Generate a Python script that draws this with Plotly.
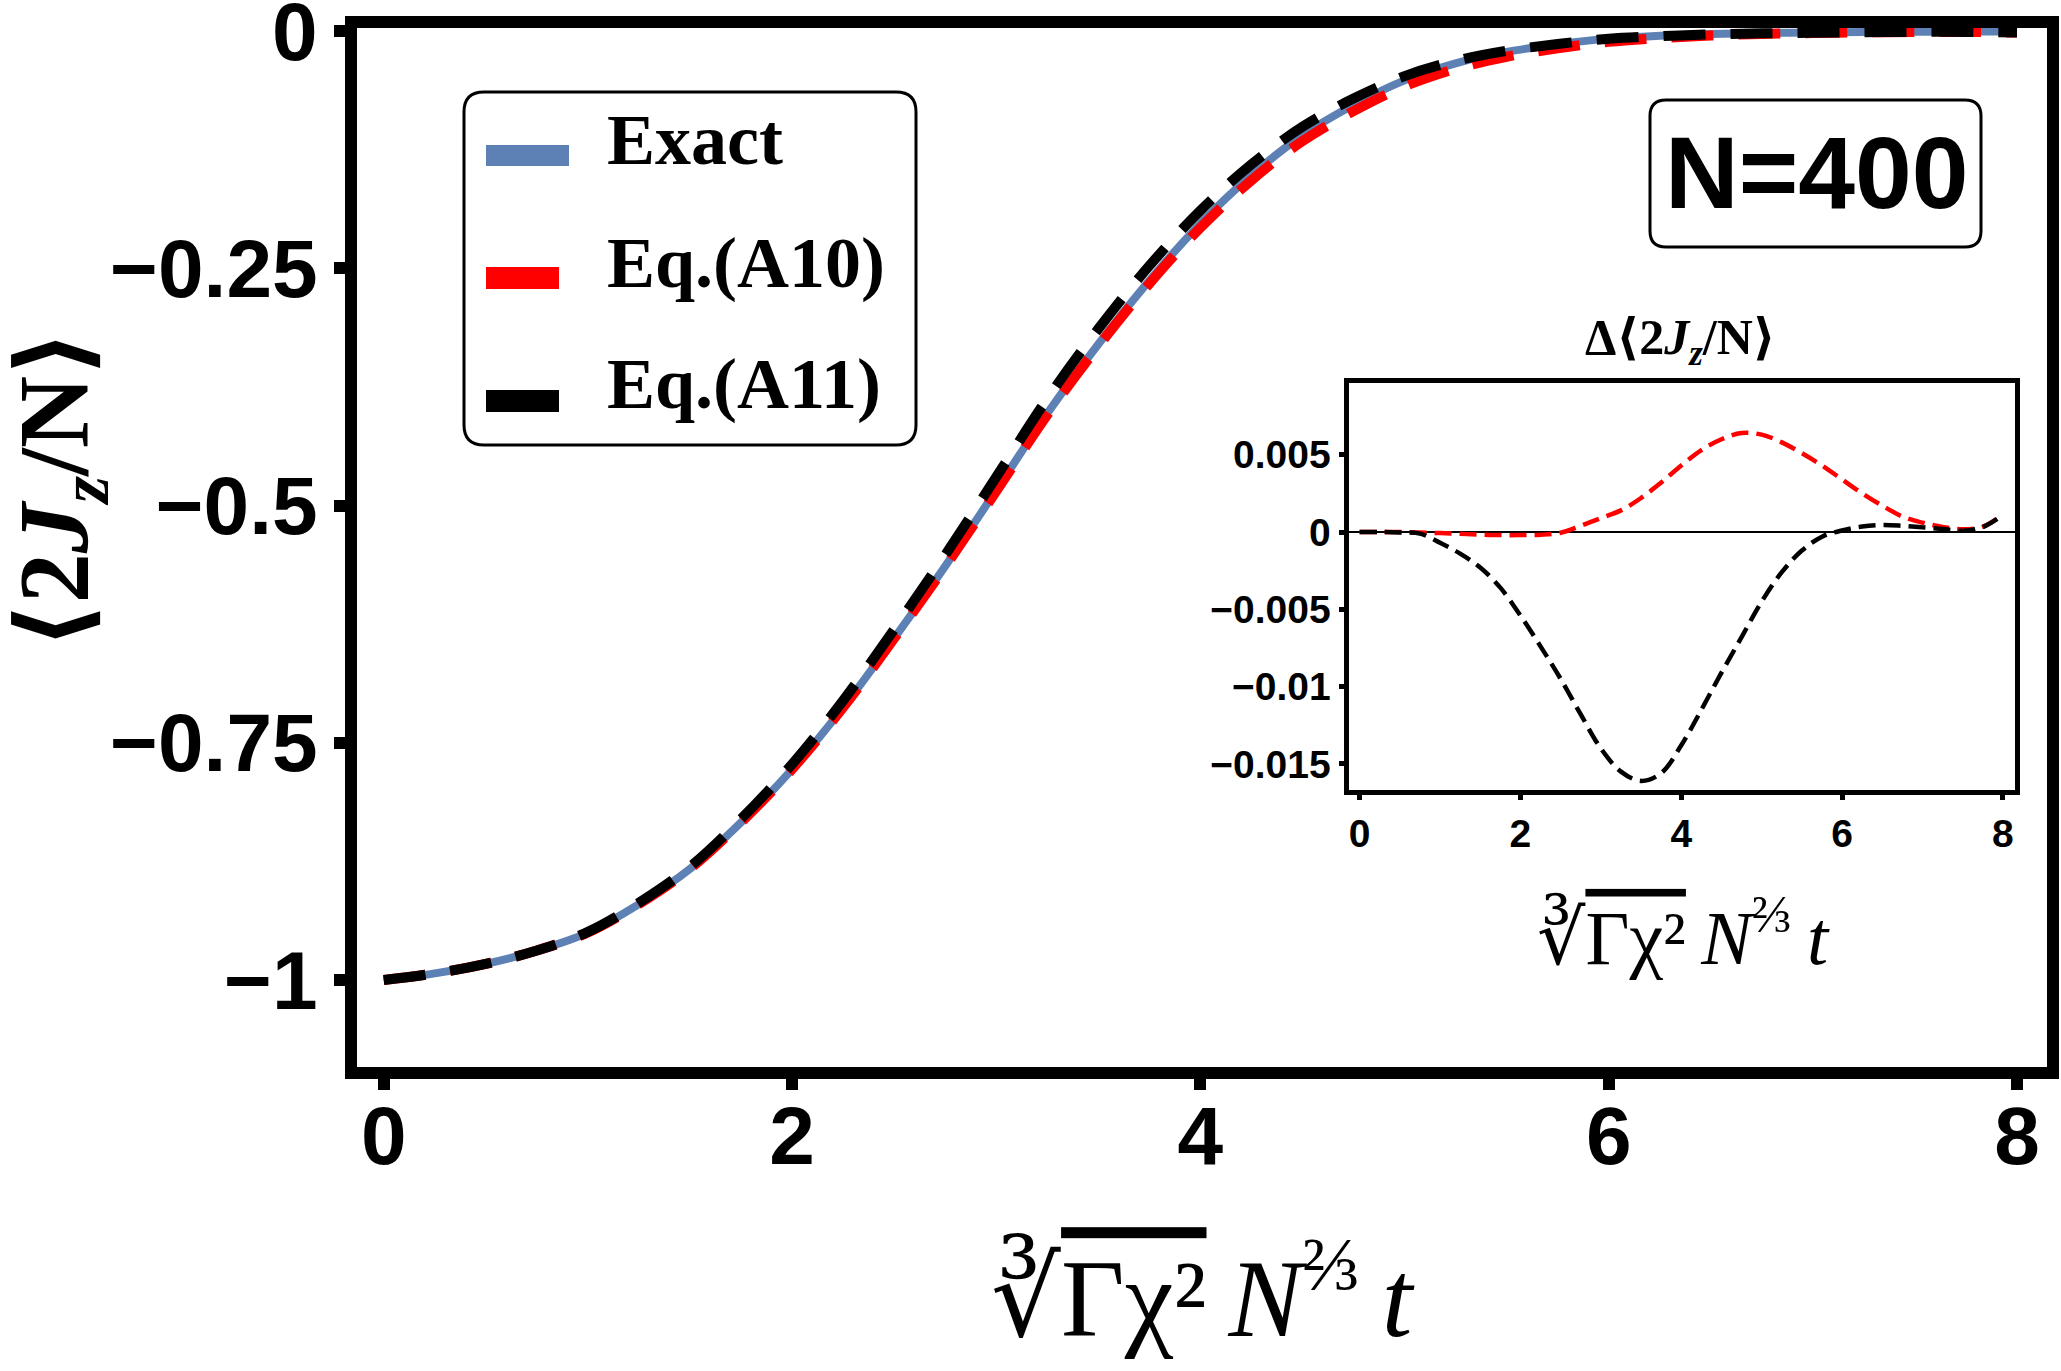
import plotly.graph_objects as go

# ---------------- data ----------------
x_vals = [0.0, 0.25, 0.5, 0.75, 1.0, 1.25, 1.5, 1.75, 2.0, 2.25, 2.5, 2.75, 3.0, 3.25,
          3.5, 3.75, 4.0, 4.25, 4.5, 4.75, 5.0, 5.25, 5.5, 5.75, 6.0, 6.25, 6.5, 6.75,
          7.0, 7.25, 7.5, 7.75, 8.0]

exact = [-1.000, -0.993, -0.983, -0.969, -0.950, -0.920, -0.883, -0.834, -0.778, -0.713,
         -0.640, -0.564, -0.484, -0.403, -0.330, -0.263, -0.203, -0.152, -0.110, -0.078,
         -0.052, -0.034, -0.022, -0.014, -0.008, -0.005, -0.003, -0.002, -0.0015, -0.0011,
         -0.0008, -0.0006, -0.0004]

eq_a10 = [-1.000, -0.993, -0.983, -0.969, -0.9499, -0.9199, -0.8828, -0.8338, -0.7778, -0.7128,
          -0.6400, -0.5644, -0.4849, -0.4044, -0.3322, -0.2662, -0.2073, -0.1573, -0.1160, -0.0844,
          -0.0583, -0.0398, -0.0271, -0.0183, -0.0114, -0.0075, -0.0047, -0.0030, -0.0021, -0.0014,
          -0.0010, -0.0010, -0.0016]

eq_a11 = [-1.000, -0.993, -0.983, -0.9689, -0.9493, -0.9186, -0.8807, -0.8304, -0.7726, -0.7056,
          -0.6305, -0.5522, -0.4700, -0.3875, -0.3139, -0.2474, -0.1892, -0.1405, -0.1009, -0.0712,
          -0.0475, -0.0314, -0.0208, -0.0137, -0.0081, -0.0054, -0.0035, -0.0024, -0.0018, -0.0013,
          -0.0009, -0.0009, -0.0015]

delta_a10 = [0, 0, 0, -0.00003, -0.00007, -0.00012, -0.00017, -0.0002, -0.0002, -0.00018,
             -0.00005, 0.0004, 0.0009, 0.0014, 0.0022, 0.0032, 0.0043, 0.0053, 0.0060, 0.0064,
             0.0063, 0.0058, 0.0051, 0.0043, 0.0034, 0.0025, 0.0017, 0.0010, 0.0006, 0.00033,
             0.00018, 0.00035, 0.00115]

delta_a11 = [0, 0, -0.00003, -0.0001, -0.0007, -0.0014, -0.0023, -0.0036, -0.0054, -0.0074,
             -0.0095, -0.0118, -0.0140, -0.0155, -0.0161, -0.0156, -0.0138, -0.0115, -0.0091, -0.0068,
             -0.0045, -0.0026, -0.0012, -0.0003, 0.0001, 0.00035, 0.00045, 0.0004, 0.0003, 0.0002,
             0.00008, 0.00032, 0.0011]

main_xticks = [0, 2, 4, 6, 8]
main_xticktext = ["0", "2", "4", "6", "8"]
main_yticks = [-1, -0.75, -0.5, -0.25, 0]
main_yticktext = ["\u22121", "\u22120.75", "\u22120.5", "\u22120.25", "0"]
inset_xticks = [0, 2, 4, 6, 8]
inset_xticktext = ["0", "2", "4", "6", "8"]
inset_yticks = [-0.015, -0.01, -0.005, 0, 0.005]
inset_yticktext = ["\u22120.015", "\u22120.01", "\u22120.005", "0", "0.005"]

series_names = ["Exact", "Eq.(A10)", "Eq.(A11)"]
series_colors = ["#5E81B5", "#FF0000", "#000000"]
panel_label = "N=400"

# ---------------- layout geometry ----------------
W, H = 2061, 1371
L, R, T, B = 357, 14, 28, 304
PW, PH = W - L - R, H - T - B


def px(xp):
    return (xp - L) / PW


def py(yp):
    return (H - B - yp) / PH


def rrect_path(x0, y0, x1, y1, r):
    """rounded rectangle given in pixel coordinates -> paper path"""
    a, b, c, d = px(x0), px(x1), py(y0), py(y1)   # c = top, d = bottom (paper)
    rx, ry = r / PW, r / PH
    return (f"M{a + rx},{c} L{b - rx},{c} Q{b},{c} {b},{c - ry} "
            f"L{b},{d + ry} Q{b},{d} {b - rx},{d} L{a + rx},{d} "
            f"Q{a},{d} {a},{d + ry} L{a},{c - ry} Q{a},{c} {a + rx},{c} Z")


SANS = "Liberation Sans, Arial, sans-serif"
SERIF = "Liberation Serif, Times New Roman, DejaVu Serif, serif"

fig = go.Figure()

# main curves
fig.add_trace(go.Scatter(x=x_vals, y=exact, mode="lines", name=series_names[0],
                         line=dict(color=series_colors[0], width=8, shape="spline")))
fig.add_trace(go.Scatter(x=x_vals, y=eq_a10, mode="lines", name=series_names[1],
                         line=dict(color=series_colors[1], width=10, dash="42px,25px", shape="spline")))
fig.add_trace(go.Scatter(x=x_vals, y=eq_a11, mode="lines", name=series_names[2],
                         line=dict(color=series_colors[2], width=10, dash="42px,25px", shape="spline")))

# inset curves
fig.add_trace(go.Scatter(x=x_vals, y=delta_a10, mode="lines", xaxis="x2", yaxis="y2",
                         line=dict(color=series_colors[1], width=4.5, dash="17px,8px", shape="spline")))
fig.add_trace(go.Scatter(x=x_vals, y=delta_a11, mode="lines", xaxis="x2", yaxis="y2",
                         line=dict(color=series_colors[2], width=4.5, dash="17px,8px", shape="spline")))

xr = [-0.131, 8.147]
yr = [-1.0917, 0.0032]

fig.update_layout(
    width=W, height=H,
    margin=dict(l=L, r=R, t=T, b=B, pad=0, autoexpand=False),
    paper_bgcolor="white", plot_bgcolor="white",
    showlegend=False,
    font=dict(family=SANS, color="black"),
    xaxis=dict(range=xr, domain=[0, 1], anchor="y", showgrid=False, zeroline=False,
               automargin=False,
               showline=True, linewidth=12, linecolor="black", mirror=True,
               ticks="outside", ticklen=11, tickwidth=12, tickcolor="black",
               tickvals=main_xticks, ticktext=main_xticktext, ticklabelstandoff=-24,
               tickfont=dict(family=SANS, size=82, weight="bold")),
    yaxis=dict(range=yr, domain=[0, 1], anchor="x", showgrid=False, zeroline=False,
               automargin=False,
               showline=True, linewidth=12, linecolor="black", mirror=True,
               ticks="outside", ticklen=11, tickwidth=12, tickcolor="black",
               tickvals=main_yticks, ticktext=main_yticktext, ticklabeloverflow="allow",
               tickfont=dict(family=SANS, size=82, weight="bold")),
    # overlay axes: inner half of the crossing ticks
    xaxis3=dict(range=xr, overlaying="x", anchor="y3", side="bottom", showgrid=False,
                automargin=False,
                zeroline=False, showline=False, ticks="inside", ticklen=10, tickwidth=12,
                tickcolor="black", tickvals=main_xticks, showticklabels=False),
    yaxis3=dict(range=yr, overlaying="y", anchor="x3", side="left", showgrid=False,
                automargin=False,
                zeroline=False, showline=False, ticks="inside", ticklen=10, tickwidth=12,
                tickcolor="black", tickvals=main_yticks, showticklabels=False),
    # inset axes
    xaxis2=dict(range=[-0.138, 8.15], domain=[px(1348.5), px(2015)], anchor="y2",
                automargin=False,
                showgrid=False, zeroline=False, showline=True, linewidth=5,
                linecolor="black", mirror=True, ticks="outside", ticklen=5, tickwidth=5,
                tickcolor="black", tickvals=inset_xticks, ticktext=inset_xticktext,
                tickfont=dict(family=SANS, size=39, weight="bold")),
    yaxis2=dict(range=[-0.01669, 0.00964], domain=[py(790), py(383)], anchor="x2",
                automargin=False,
                showgrid=False, zeroline=True, zerolinecolor="black", zerolinewidth=2,
                showline=True, linewidth=5, linecolor="black", mirror=True,
                ticks="outside", ticklen=5, tickwidth=5, tickcolor="black",
                tickvals=inset_yticks, ticktext=inset_yticktext,
                tickfont=dict(family=SANS, size=39, weight="bold")),
)

shapes = []
annotations = []

# legend frame and symbols
shapes.append(dict(type="path", xref="paper", yref="paper", path=rrect_path(464, 92, 916, 445, 20),
                   line=dict(color="black", width=3), fillcolor="white", layer="above"))
legend_sym = [(486, 569, 145, 166), (486, 559, 267, 289), (486, 559, 390, 412)]
legend_txt_y = [140, 263, 384]
for i, (a, b, c, d) in enumerate(legend_sym):
    shapes.append(dict(type="rect", xref="paper", yref="paper", x0=px(a), x1=px(b), y0=py(d), y1=py(c),
                       line=dict(width=0), fillcolor=series_colors[i], layer="above"))
    annotations.append(dict(text="<b>" + series_names[i] + "</b>", xref="paper", yref="paper",
                            x=px(605), y=py(legend_txt_y[i]), xanchor="left", yanchor="middle",
                            showarrow=False, font=dict(family=SERIF, size=72, color="black")))

# N=400 box
shapes.append(dict(type="path", xref="paper", yref="paper", path=rrect_path(1650, 100, 1981, 247, 16),
                   line=dict(color="black", width=3), fillcolor="white", layer="above"))
annotations.append(dict(text="<b>" + panel_label + "</b>", xref="paper", yref="paper",
                        x=px(1816), y=py(173), xanchor="center", yanchor="middle",
                        showarrow=False, font=dict(family=SANS, size=102, color="black")))

# axis titles
annotations.append(dict(text="<b>\u27e82<i>J<sub>z</sub></i>/N\u27e9</b>", xref="paper", yref="paper",
                        x=px(60), y=py(490), xanchor="center", yanchor="middle", textangle=-90,
                        showarrow=False, font=dict(family=SERIF, size=100, color="black")))
xtitle = ("\u221b<span style='text-decoration:overline'>\u0393\u03c7\u00b2</span>"
          "\u2009<i>N</i><sup>\u2154</sup>\u2009<i>t</i>")
annotations.append(dict(text=xtitle, xref="paper", yref="paper", x=px(1203), y=py(1290),
                        xanchor="center", yanchor="middle", showarrow=False,
                        font=dict(family=SERIF, size=110, color="black")))
annotations.append(dict(text=xtitle, xref="paper", yref="paper", x=px(1683), y=py(932),
                        xanchor="center", yanchor="middle", showarrow=False,
                        font=dict(family=SERIF, size=76, color="black")))
annotations.append(dict(text="<b>\u0394\u27e82<i>J<sub>z</sub></i>/N\u27e9</b>", xref="paper", yref="paper",
                        x=px(1680), y=py(341), xanchor="center", yanchor="middle", showarrow=False,
                        font=dict(family=SERIF, size=50, color="black")))

fig.update_layout(shapes=shapes, annotations=annotations)
fig.write_html("out.html")
